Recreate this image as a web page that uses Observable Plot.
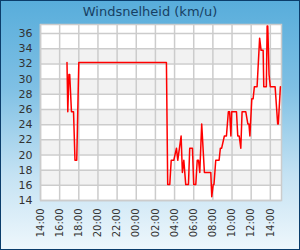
<!DOCTYPE html>
<html><head><meta charset="utf-8">
<script src="https://cdn.jsdelivr.net/npm/d3@7"></script>
<script src="https://cdn.jsdelivr.net/npm/@observablehq/plot@0.6"></script>
<style>
body{margin:0;}
#wrap{position:relative;width:300px;height:250px;box-sizing:border-box;border:1px solid #0b3d6b;
background:linear-gradient(to bottom,#58addb 0%,#7fc0e4 35%,#c4e2f3 70%,#eef7fc 100%);overflow:hidden;font-family:"DejaVu Sans",sans-serif;}
#title{position:absolute;left:0;top:3px;width:298px;text-align:center;font-size:13px;color:#173f63;}
#chart{position:absolute;left:0;top:0;}
</style></head><body>
<div id="wrap"><div id="title">Windsnelheid (km/u)</div><div id="chart"></div></div>
<script>
const times = ["2024-05-01T16:46","2024-05-01T16:51","2024-05-01T16:58","2024-05-01T17:03","2024-05-01T17:14","2024-05-01T17:27","2024-05-01T17:36","2024-05-01T17:47","2024-05-01T18:00",
"2024-05-02T03:09","2024-05-02T03:17","2024-05-02T03:30","2024-05-02T03:39","2024-05-02T03:55","2024-05-02T04:12","2024-05-02T04:20","2024-05-02T04:41","2024-05-02T04:49","2024-05-02T04:58",
"2024-05-02T05:10","2024-05-02T05:27","2024-05-02T05:35","2024-05-02T05:52","2024-05-02T06:00","2024-05-02T06:13","2024-05-02T06:22","2024-05-02T06:30","2024-05-02T06:38","2024-05-02T06:50",
"2024-05-02T07:07","2024-05-02T07:47","2024-05-02T07:53","2024-05-02T08:02","2024-05-02T08:07","2024-05-02T08:18","2024-05-02T08:39","2024-05-02T08:47","2024-05-02T08:55","2024-05-02T09:12",
"2024-05-02T09:25","2024-05-02T09:37","2024-05-02T09:45","2024-05-02T09:53","2024-05-02T09:58","2024-05-02T10:28","2024-05-02T10:36","2024-05-02T10:45","2024-05-02T10:55","2024-05-02T11:03",
"2024-05-02T11:26","2024-05-02T11:39","2024-05-02T11:46","2024-05-02T11:52","2024-05-02T12:04","2024-05-02T12:12","2024-05-02T12:20","2024-05-02T12:37","2024-05-02T12:53","2024-05-02T13:02",
"2024-05-02T13:15","2024-05-02T13:19","2024-05-02T13:35","2024-05-02T13:40","2024-05-02T13:44","2024-05-02T13:52","2024-05-02T14:00","2024-05-02T14:30","2024-05-02T14:46","2024-05-02T14:50","2024-05-02T15:03"];
const speeds = [32.2,25.7,30.6,30.6,25.7,25.7,19.3,19.3,32.2,
32.2,16.1,16.1,19.3,19.3,20.9,19.3,22.5,17.7,19.3,
16.1,16.1,20.9,20.9,16.1,16.1,19.3,19.3,17.7,24.1,
17.7,17.7,14.5,16.1,16.1,19.3,19.3,20.9,20.9,22.5,
22.5,25.7,25.7,22.5,25.7,25.7,22.5,22.5,20.9,25.7,
25.7,24.1,24.1,22.5,27.4,27.4,29.0,29.0,35.4,33.8,
33.8,29.0,29.0,37.0,37.0,30.6,29.0,29.0,24.1,24.1,29.0];
const yTicks = [14,16,18,20,22,24,26,28,30,32,34,36];
const xTicks = ["2024-05-01T14:00","2024-05-01T16:00","2024-05-01T18:00","2024-05-01T20:00","2024-05-01T22:00","2024-05-02T00:00","2024-05-02T02:00","2024-05-02T04:00","2024-05-02T06:00","2024-05-02T08:00","2024-05-02T10:00","2024-05-02T12:00","2024-05-02T14:00"];
const xStart = "2024-05-01T14:00", xEnd = "2024-05-02T15:10";

const P = s => new Date(s + "Z");
const data = times.map((t, i) => ({t: P(t), v: speeds[i]}));
const xt = xTicks.map(P);
const bands = yTicks.filter((d, i) => i % 2 === 1 && i < yTicks.length - 1);

const chart = Plot.plot({
  width: 298, height: 248,
  marginLeft: 39, marginRight: 18, marginTop: 23, marginBottom: 49,
  style: {background: "transparent", fontFamily: "DejaVu Sans", color: "#333"},
  x: {type: "utc", domain: [P(xStart), P(xEnd)], label: null},
  y: {domain: [14, 37.2], label: null},
  marks: [
    Plot.frame({fill: "white"}),
    Plot.rect(bands, {y1: d => d, y2: d => d + 2, fill: "#f2f2f2"}),
    Plot.ruleY(yTicks, {stroke: "#cccccc", strokeWidth: 1.5}),
    Plot.ruleX(xt, {stroke: "#cccccc", strokeWidth: 1.5}),
    Plot.frame({stroke: "#cccccc", strokeWidth: 1.5}),
    Plot.line(data, {x: "t", y: "v", stroke: "#ff0000", strokeWidth: 1.5}),
    Plot.axisY({ticks: yTicks, tickSize: 0, tickPadding: 8, fontSize: 11, fill: "#333", label: null}),
    Plot.axisX({ticks: xt, tickSize: 0, tickPadding: 8, tickRotate: -90, fontSize: 10, fill: "#333", label: null, tickFormat: d3.utcFormat("%H:%M")})
  ]
});
document.getElementById("chart").appendChild(chart);
</script></body></html>
